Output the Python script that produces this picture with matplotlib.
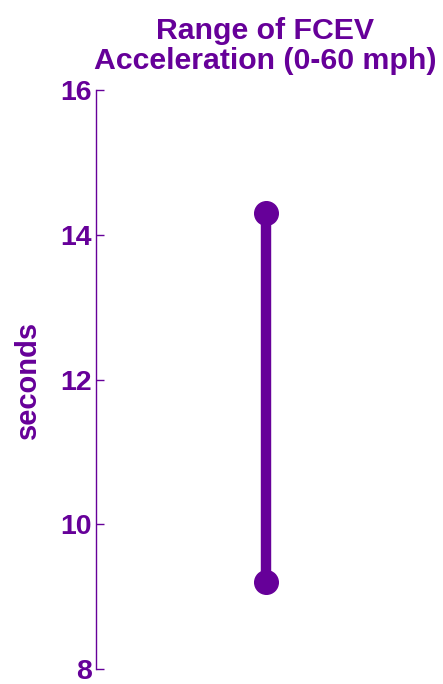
import matplotlib
matplotlib.use('Agg')
import matplotlib.pyplot as plt

# Datos
categorias = ['FCEV']
acel_min = [9.2]
acel_max = [14.3]
yticks = [8, 10, 12, 14, 16]

PURPURA = '#660099'

plt.rcParams['font.family'] = ['Liberation Sans', 'DejaVu Sans']
plt.rcParams['font.weight'] = 'bold'

fig = plt.figure(figsize=(4.43, 6.84), dpi=100)
ax = fig.add_axes([96 / 443, 15 / 684, 339 / 443, 579 / 684])

for i, cat in enumerate(categorias):
    ax.plot([i, i], [acel_min[i], acel_max[i]], color=PURPURA, lw=7.5,
            marker='o', markersize=17, solid_capstyle='butt')

ax.set_xlim(-0.5, 0.5)
ax.set_ylim(8, 16)
ax.set_yticks(yticks)
ax.set_xticks([])
for s in ['top', 'right', 'bottom']:
    ax.spines[s].set_visible(False)
ax.spines['left'].set_color(PURPURA)
ax.spines['left'].set_linewidth(1)
ax.tick_params(axis='y', direction='in', length=6, width=1, color=PURPURA,
               labelcolor=PURPURA, labelsize=20.5, pad=3)
ax.set_ylabel('seconds', color=PURPURA, fontsize=21, fontweight='bold', labelpad=13)
ax.set_title('Range of FCEV\nAcceleration (0-60 mph)', color=PURPURA,
             fontsize=21.8, fontweight='bold', pad=15, x=0.5, linespacing=1.12)

fig.savefig('out.png', dpi=100)
